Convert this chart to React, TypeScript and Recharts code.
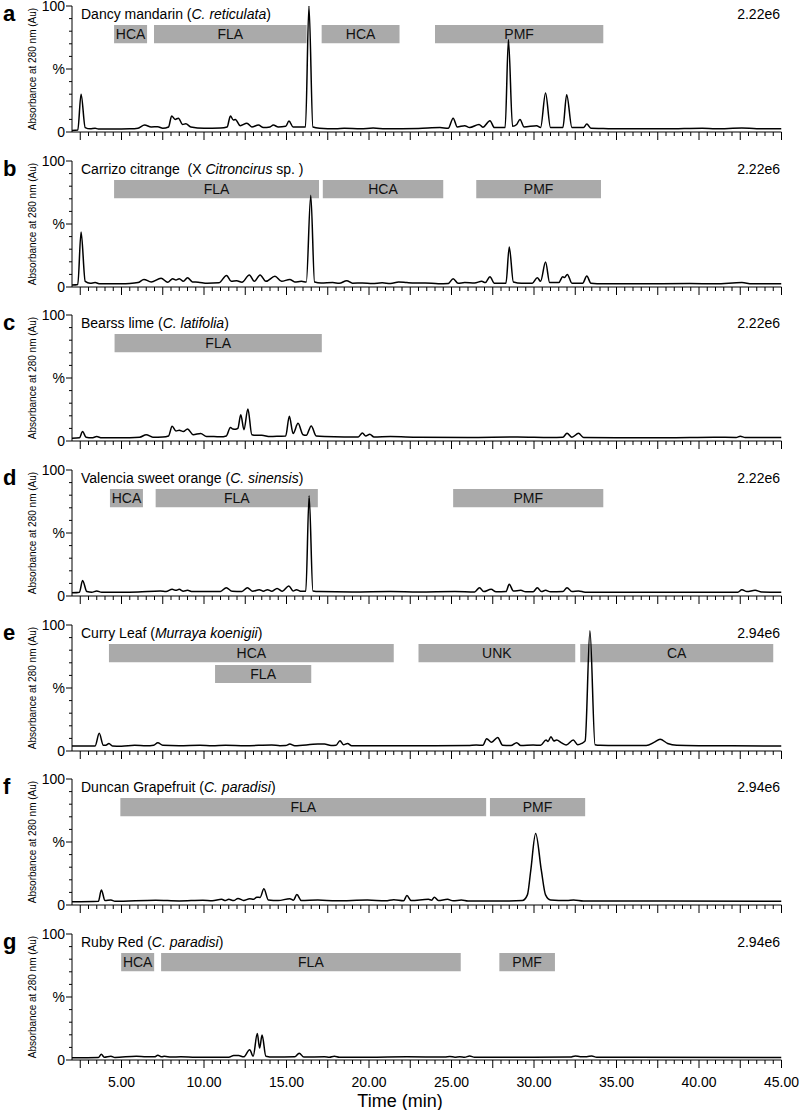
import React from "react";
import { LineChart, Line, XAxis, YAxis, ReferenceArea } from "recharts";

type Pt = [number, number];
type Band = { label: string; from: number; to: number; row: number };

// retention time (min), absorbance (% of panel full scale)
const dancy: Pt[] = [
  [2.0, 1.2], [2.35, 1.5], [2.55, 30], [2.8, 3.5], [3.1, 2.5], [3.4, 3], [3.6, 2.4], [4.5, 2.3],
  [5.5, 2.5], [6.0, 3], [6.4, 5.5], [6.8, 4], [7.2, 4.2], [7.5, 3], [7.85, 4], [8.04, 12.7],
  [8.25, 10], [8.45, 11], [8.7, 6], [8.9, 6.5], [9.2, 4], [10, 3], [11, 3.2], [11.4, 4],
  [11.6, 12.7], [11.78, 9.5], [11.9, 10], [12.2, 5], [12.6, 7], [12.9, 4], [13.3, 5.5],
  [13.6, 3.5], [14.0, 4], [14.2, 5.5], [14.5, 4], [14.95, 4.5], [15.15, 8.7], [15.4, 4],
  [16.15, 4], [16.36, 100], [16.6, 4], [17, 3], [18.0, 2.5], [18.5, 3], [19.5, 2.5],
  [20.25, 3.2], [21, 2.5], [23, 2.8], [24.3, 3.5], [24.8, 3], [25.1, 11], [25.35, 4],
  [25.8, 5], [26.1, 3.5], [26.67, 6], [26.9, 3.8], [27.33, 9], [27.6, 3.5], [28.25, 3.5],
  [28.45, 73.5], [28.7, 4.5], [28.95, 6], [29.15, 10], [29.4, 4], [30.16, 5], [30.4, 3.5],
  [30.7, 31], [31, 3.5], [31.75, 3.5], [31.98, 29.6], [32.3, 3.5], [33.0, 3.5], [33.2, 6.3],
  [33.45, 3], [34.2, 2.8], [35, 2.5], [38, 2.5], [40.2, 3], [41, 2.5], [42.6, 3.2],
  [43.5, 2.6], [45, 2.6],
];

const carrizo: Pt[] = [
  [2.0, 1.5], [2.35, 2], [2.55, 43.7], [2.8, 4.5], [3.1, 3], [3.4, 3.5], [3.7, 2.5], [4.8, 2.6],
  [5.5, 2.8], [6.0, 3.5], [6.36, 6], [6.8, 4], [7.4, 7], [7.8, 3.8], [8.1, 6.6], [8.3, 5.5],
  [8.5, 6.6], [8.75, 4.5], [9.0, 7.4], [9.3, 4], [9.65, 3.8], [10.2, 3], [10.9, 3.3],
  [11.37, 9.2], [11.65, 4.5], [11.98, 5], [12.3, 3.8], [12.75, 9.5], [13.05, 4.5], [13.4, 9.5],
  [13.75, 4.5], [14.3, 8.5], [14.7, 4.5], [15.2, 6], [15.5, 4], [15.9, 4.5], [16.2, 4],
  [16.47, 72.8], [16.7, 4], [17.1, 3.2], [17.8, 3.5], [18.2, 3], [18.65, 5], [19.0, 3],
  [19.6, 3.2], [20.2, 2.8], [20.8, 3.3], [21.3, 2.8], [21.8, 4], [22.3, 3.5], [22.8, 3.2],
  [23.4, 3.2], [24.2, 2.6], [24.8, 2.8], [25.1, 6.6], [25.4, 3], [25.8, 3.5], [26.4, 3.2],
  [26.83, 4.5], [27.05, 3.5], [27.33, 8.2], [27.6, 3], [28.3, 3], [28.5, 31.7], [28.75, 4],
  [29.25, 3], [29.9, 3], [30.2, 7.4], [30.4, 4.5], [30.7, 19.8], [30.95, 3.5], [31.5, 3.5],
  [31.74, 8.2], [31.85, 7.5], [32.02, 10], [32.3, 3], [32.95, 3], [33.2, 8.7], [33.45, 3],
  [34.2, 2.5], [36, 2.5], [39.45, 2.8], [41, 2.5], [42.6, 3.5], [43.2, 2.5], [45, 2.5],
];

const bearss: Pt[] = [
  [2.0, 2.2], [2.45, 2.5], [2.64, 7.5], [2.85, 3], [3.2, 2.5], [3.5, 3.5], [3.8, 2.5],
  [5.5, 2.6], [6.1, 3], [6.5, 5], [6.9, 3], [7.5, 3.2], [7.85, 4], [8.07, 11.7], [8.3, 8],
  [8.5, 8.5], [8.75, 7.5], [9.0, 9.6], [9.35, 5], [9.8, 6], [10.15, 3.5], [10.6, 3.5],
  [11.0, 3.3], [11.35, 4], [11.6, 10.7], [11.75, 9.5], [11.9, 9.3], [12.05, 10], [12.23, 20.8],
  [12.42, 9], [12.66, 25.3], [12.9, 5], [13.2, 4.5], [13.5, 4.5], [14.0, 3.5], [14.6, 3.8],
  [14.95, 4], [15.17, 19.7], [15.4, 6], [15.7, 14], [16.0, 5], [16.2, 4.5], [16.5, 12],
  [16.8, 4], [17.3, 3.5], [18.5, 3.2], [19.35, 3.2], [19.6, 6.4], [19.8, 4], [20.05, 5.3],
  [20.3, 3.2], [21.3, 3.5], [23, 3], [26, 2.8], [29.0, 3.2], [31.0, 2.8], [31.75, 3],
  [32.0, 6.1], [32.3, 3], [32.7, 6.1], [33.0, 2.8], [35, 2.6], [38, 2.6], [40.9, 3],
  [42.25, 2.8], [42.5, 3.7], [42.8, 2.8], [45, 2.7],
];

const valencia: Pt[] = [
  [2.0, 2.5], [2.45, 3], [2.64, 12.4], [2.9, 3.5], [3.2, 3], [3.5, 4], [3.8, 3], [5.0, 3],
  [6.0, 3.2], [7.35, 4], [7.7, 3.5], [8.07, 5.3], [8.3, 4.5], [8.5, 5.3], [8.75, 3.8],
  [9.0, 4.5], [9.3, 3.5], [10.3, 3.5], [11.0, 3.6], [11.35, 6.6], [11.7, 3.8], [12.3, 3.6],
  [12.63, 6.6], [12.95, 3.8], [13.35, 5], [13.6, 3.8], [13.85, 5], [14.1, 3.8], [14.43, 6],
  [14.75, 3.8], [15.14, 8], [15.4, 4], [15.6, 5], [15.85, 3.8], [16.17, 3.8], [16.37, 79.6],
  [16.6, 4], [17.0, 3.5], [19, 3.2], [21.3, 3.5], [23, 3.2], [25.2, 3.5], [26.4, 3.2],
  [26.7, 6.6], [26.95, 3.5], [27.4, 5.3], [27.7, 3.3], [28.3, 3.5], [28.5, 9.3], [28.75, 4],
  [29.2, 4.5], [29.5, 3.3], [29.95, 3.3], [30.2, 6.6], [30.45, 3.5], [30.7, 4.5], [31.0, 3.3],
  [31.75, 3.5], [32.0, 6.6], [32.3, 3.5], [32.7, 4], [33.1, 3], [35, 3], [38, 3], [41, 2.9],
  [42.35, 3], [42.6, 5], [42.9, 3.5], [43.4, 4.5], [43.8, 3.2], [45, 3],
];

const curry: Pt[] = [
  [2.0, 4], [3.4, 4], [3.65, 14], [3.9, 4.5], [4.05, 4.5], [4.24, 6], [4.45, 4], [5.0, 3.8],
  [5.8, 4.5], [6.5, 4.2], [6.95, 4.6], [7.2, 6.6], [7.5, 4.5], [8.5, 4.2], [9.75, 4.5],
  [10.5, 4.2], [11.3, 4.5], [12.5, 4.2], [14.1, 4.8], [14.6, 4.2], [14.95, 4.3], [15.2, 5.5],
  [15.5, 4.2], [16.9, 5.5], [17.3, 5.5], [17.7, 4.3], [18.0, 4.5], [18.24, 8.2], [18.45, 5],
  [18.7, 6], [18.95, 4.2], [20, 4.2], [22, 4.2], [24, 4.2], [26.0, 4.3], [26.5, 4.8],
  [26.9, 4.5], [27.13, 9.8], [27.43, 7], [27.8, 10.8], [28.1, 4.5], [28.6, 4.3], [28.95, 6.6],
  [29.2, 4.3], [29.95, 4.8], [30.4, 4.5], [30.73, 8.7], [30.85, 7.5], [31.03, 11.4], [31.2, 8],
  [31.37, 8.7], [31.67, 6.5], [31.95, 4.8], [32.38, 8.7], [32.65, 5], [32.89, 6], [33.1, 8],
  [33.39, 95.5], [33.7, 5], [34.0, 4.5], [35, 4.3], [36.8, 4.3], [37.3, 7], [37.64, 9.3],
  [38.1, 6], [38.65, 4.5], [40, 4.2], [42, 4.1], [45, 4],
];

const duncan: Pt[] = [
  [2.0, 2.5], [3.6, 3], [3.78, 12], [4.0, 3.5], [4.36, 4], [4.6, 3], [7.07, 3.8], [8.5, 3.2],
  [9.93, 3.8], [10.5, 3.3], [11.07, 4.5], [11.3, 3.5], [11.5, 4.5], [11.8, 3.5], [12.06, 5.2],
  [12.4, 3.6], [12.77, 5], [13.0, 4.5], [13.2, 6.2], [13.4, 6], [13.63, 12.8], [13.9, 4],
  [14.5, 3.5], [15.2, 5], [15.42, 3.8], [15.63, 8.3], [15.9, 3.5], [16.9, 4], [18, 3.3],
  [19.9, 4], [21, 3.3], [21.5, 4.2], [22.1, 3.4], [22.3, 7.5], [22.55, 3.5], [23.6, 4.5],
  [23.8, 3.8], [23.96, 6.2], [24.2, 3.6], [24.76, 4.5], [25.1, 3.3], [25.6, 4], [26, 3.2],
  [28.5, 3.2], [29.3, 3.5], [29.6, 8], [29.8, 27], [30.1, 56.7], [30.45, 27], [30.7, 8],
  [31.0, 4], [32.0, 3.5], [32.4, 4], [33, 3.2], [38, 3.2], [45, 3],
];

const ruby: Pt[] = [
  [2.0, 1.8], [3.6, 2], [3.78, 4.5], [3.95, 2.2], [4.36, 3], [4.6, 2], [5.9, 3], [6.5, 2.5],
  [7.0, 2.5], [7.2, 3.8], [7.45, 2.5], [7.6, 3], [8.0, 2.3], [8.6, 2.6], [9.5, 2.2],
  [11.5, 2.2], [11.8, 3.5], [12.1, 3.5], [12.4, 2.5], [12.77, 8.2], [12.98, 3], [13.23, 21],
  [13.37, 9.5], [13.52, 19.8], [13.75, 3], [14.2, 2.3], [15.5, 2.5], [15.77, 5.4], [16.05, 2.3],
  [17.3, 2.5], [17.6, 2.2], [17.9, 3], [18.2, 2.2], [20, 2.2], [22.3, 2.5], [24.6, 2.3],
  [24.9, 2.8], [25.2, 2.2], [25.5, 2.6], [25.8, 2.2], [26.1, 3.2], [26.4, 2.2], [30, 2.2],
  [32.2, 2.3], [32.5, 3.2], [32.8, 2.6], [33.2, 2.6], [33.5, 3.2], [33.8, 2.2], [36, 2.2],
  [45, 2],
];

const dancyBands: Band[] = [
  { label: "HCA", from: 4.55, to: 6.55, row: 0 },
  { label: "FLA", from: 6.97, to: 16.22, row: 0 },
  { label: "HCA", from: 17.13, to: 21.85, row: 0 },
  { label: "PMF", from: 24.0, to: 34.2, row: 0 },
];
const carrizoBands: Band[] = [
  { label: "FLA", from: 4.55, to: 16.97, row: 0 },
  { label: "HCA", from: 17.2, to: 24.5, row: 0 },
  { label: "PMF", from: 26.5, to: 34.06, row: 0 },
];
const bearssBands: Band[] = [{ label: "FLA", from: 4.58, to: 17.14, row: 0 }];
const valenciaBands: Band[] = [
  { label: "HCA", from: 4.3, to: 6.3, row: 0 },
  { label: "FLA", from: 7.07, to: 16.9, row: 0 },
  { label: "PMF", from: 25.1, to: 34.2, row: 0 },
];
const curryBands: Band[] = [
  { label: "HCA", from: 4.24, to: 21.5, row: 0 },
  { label: "FLA", from: 10.67, to: 16.5, row: 1 },
  { label: "UNK", from: 23.0, to: 32.5, row: 0 },
  { label: "CA", from: 32.8, to: 44.5, row: 0 },
];
const duncanBands: Band[] = [
  { label: "FLA", from: 4.93, to: 27.1, row: 0 },
  { label: "PMF", from: 27.33, to: 33.1, row: 0 },
];
const rubyBands: Band[] = [
  { label: "HCA", from: 4.98, to: 6.98, row: 0 },
  { label: "FLA", from: 7.4, to: 25.56, row: 0 },
  { label: "PMF", from: 27.9, to: 31.27, row: 0 },
];

const letters = ["a", "b", "c", "d", "e", "f", "g"];
const names = [
  ["Dancy mandarin (", "C. reticulata", ")"],
  ["Carrizo citrange \u00a0(X ", "Citroncirus", " sp. )"],
  ["Bearss lime (", "C. latifolia", ")"],
  ["Valencia sweet orange (", "C. sinensis", ")"],
  ["Curry Leaf (", "Murraya koenigii", ")"],
  ["Duncan Grapefruit (", "C. paradisi", ")"],
  ["Ruby Red (", "C. paradisi", ")"],
];
const fullScale = ["2.22e6", "2.22e6", "2.22e6", "2.22e6", "2.94e6", "2.94e6", "2.94e6"];
const traces = [dancy, carrizo, bearss, valencia, curry, duncan, ruby];
const bands = [dancyBands, carrizoBands, bearssBands, valenciaBands, curryBands, duncanBands, rubyBands];

const timeTickLabels = ["5.00", "10.00", "15.00", "20.00", "25.00", "30.00", "35.00", "40.00", "45.00"];
const yTicks = [0, 10, 20, 30, 40, 50, 60, 70, 80, 90, 100];
const yTickLabels: Record<number, string> = { 0: "0", 50: "%", 100: "100" };

const FONT = "'Liberation Sans', Arial, Helvetica, sans-serif";
const rowY = [
  [70.5, 85],
  [54, 68.3],
];

// minor ticks every 0.5 min, longer ticks every 2.5 min
const xTicks: number[] = [];
for (let t = 2.5; t <= 45; t += 0.5) xTicks.push(t);

const makeXTick = (showLabels: boolean) => (props: any) => {
  const { x, y, payload } = props;
  const v: number = payload.value;
  const major = v % 2.5 === 0;
  const lbl = v.toFixed(2);
  return (
    <g>
      <line x1={x} x2={x} y1={y} y2={y + (major ? 8 : 4)} stroke="#000" strokeWidth={1} />
      {showLabels && timeTickLabels.includes(lbl) && (
        <text x={x} y={y + 27} textAnchor="middle" fontSize={14} fontFamily={FONT} fill="#000">
          {lbl}
        </text>
      )}
    </g>
  );
};

const YTick = (props: any) => {
  const { x, y, payload } = props;
  const v: number = payload.value;
  const lbl = yTickLabels[v];
  const len = lbl ? 6 : 3;
  return (
    <g>
      <line x1={x - len} x2={x} y1={y} y2={y} stroke="#000" strokeWidth={1} />
      {lbl && (
        <text x={x - len - 1} y={y + 5} textAnchor="end" fontSize={14} fontFamily={FONT} fill="#000">
          {lbl}
        </text>
      )}
    </g>
  );
};

function Panel({ idx }: { idx: number }) {
  const last = idx === traces.length - 1;
  const axisH = last ? 50 : 14;
  const data = traces[idx].map(([t, v]) => ({ t, v }));
  const top = 6 + idx * 154.67;
  const nm = names[idx];
  return (
    <div style={{ position: "absolute", left: 0, top: top - 10 }}>
      <LineChart
        width={800}
        height={10 + 126 + axisH}
        data={data}
        margin={{ top: 10, right: 18.5, left: 0, bottom: 0 }}
      >
        <XAxis
          type="number"
          dataKey="t"
          domain={[2, 45]}
          ticks={xTicks}
          interval={0}
          tickLine={false}
          tickSize={0}
          tickMargin={0}
          height={axisH}
          axisLine={{ stroke: "#000", strokeWidth: 1 }}
          tick={makeXTick(last)}
          allowDataOverflow
        />
        <YAxis
          type="number"
          domain={[0, 100]}
          ticks={yTicks}
          interval={0}
          width={72}
          tickLine={false}
          tickSize={0}
          tickMargin={0}
          axisLine={{ stroke: "#000", strokeWidth: 1 }}
          tick={YTick}
          allowDataOverflow
        />
        {bands[idx].map((b, i) => (
          <ReferenceArea
            key={i}
            x1={b.from}
            x2={b.to}
            y1={rowY[b.row][0]}
            y2={rowY[b.row][1]}
            fill="#aaaaaa"
            fillOpacity={1}
            stroke="none"
            label={{ value: b.label, position: "center", fontSize: 14, fill: "#111", fontFamily: FONT }}
          />
        ))}
        <Line
          type="monotone"
          dataKey="v"
          stroke="#000"
          strokeWidth={1.5}
          dot={false}
          activeDot={false}
          isAnimationActive={false}
        />
        <text x={3} y={25} fontSize={22} fontWeight="bold" fontFamily={FONT} fill="#000">
          {letters[idx]}
        </text>
        <text x={81} y={23} fontSize={14} fontFamily={FONT} fill="#000">
          {nm[0]}
          <tspan fontStyle="italic">{nm[1]}</tspan>
          {nm[2]}
        </text>
        <text x={780} y={23} fontSize={14} textAnchor="end" fontFamily={FONT} fill="#000">
          {fullScale[idx]}
        </text>
        <text
          transform="translate(36, 73) rotate(-90)"
          textAnchor="middle"
          fontSize={10}
          fontFamily={FONT}
          fill="#000"
        >
          Absorbance at 280 nm (Au)
        </text>
        {last && (
          <text x={400} y={183} textAnchor="middle" fontSize={18} fontFamily={FONT} fill="#000">
            Time (min)
          </text>
        )}
      </LineChart>
    </div>
  );
}

export default function App() {
  return (
    <div style={{ position: "absolute", left: 0, top: 0, width: 800, height: 1111, background: "#fff" }}>
      {traces.map((_, i) => (
        <Panel key={i} idx={i} />
      ))}
    </div>
  );
}
